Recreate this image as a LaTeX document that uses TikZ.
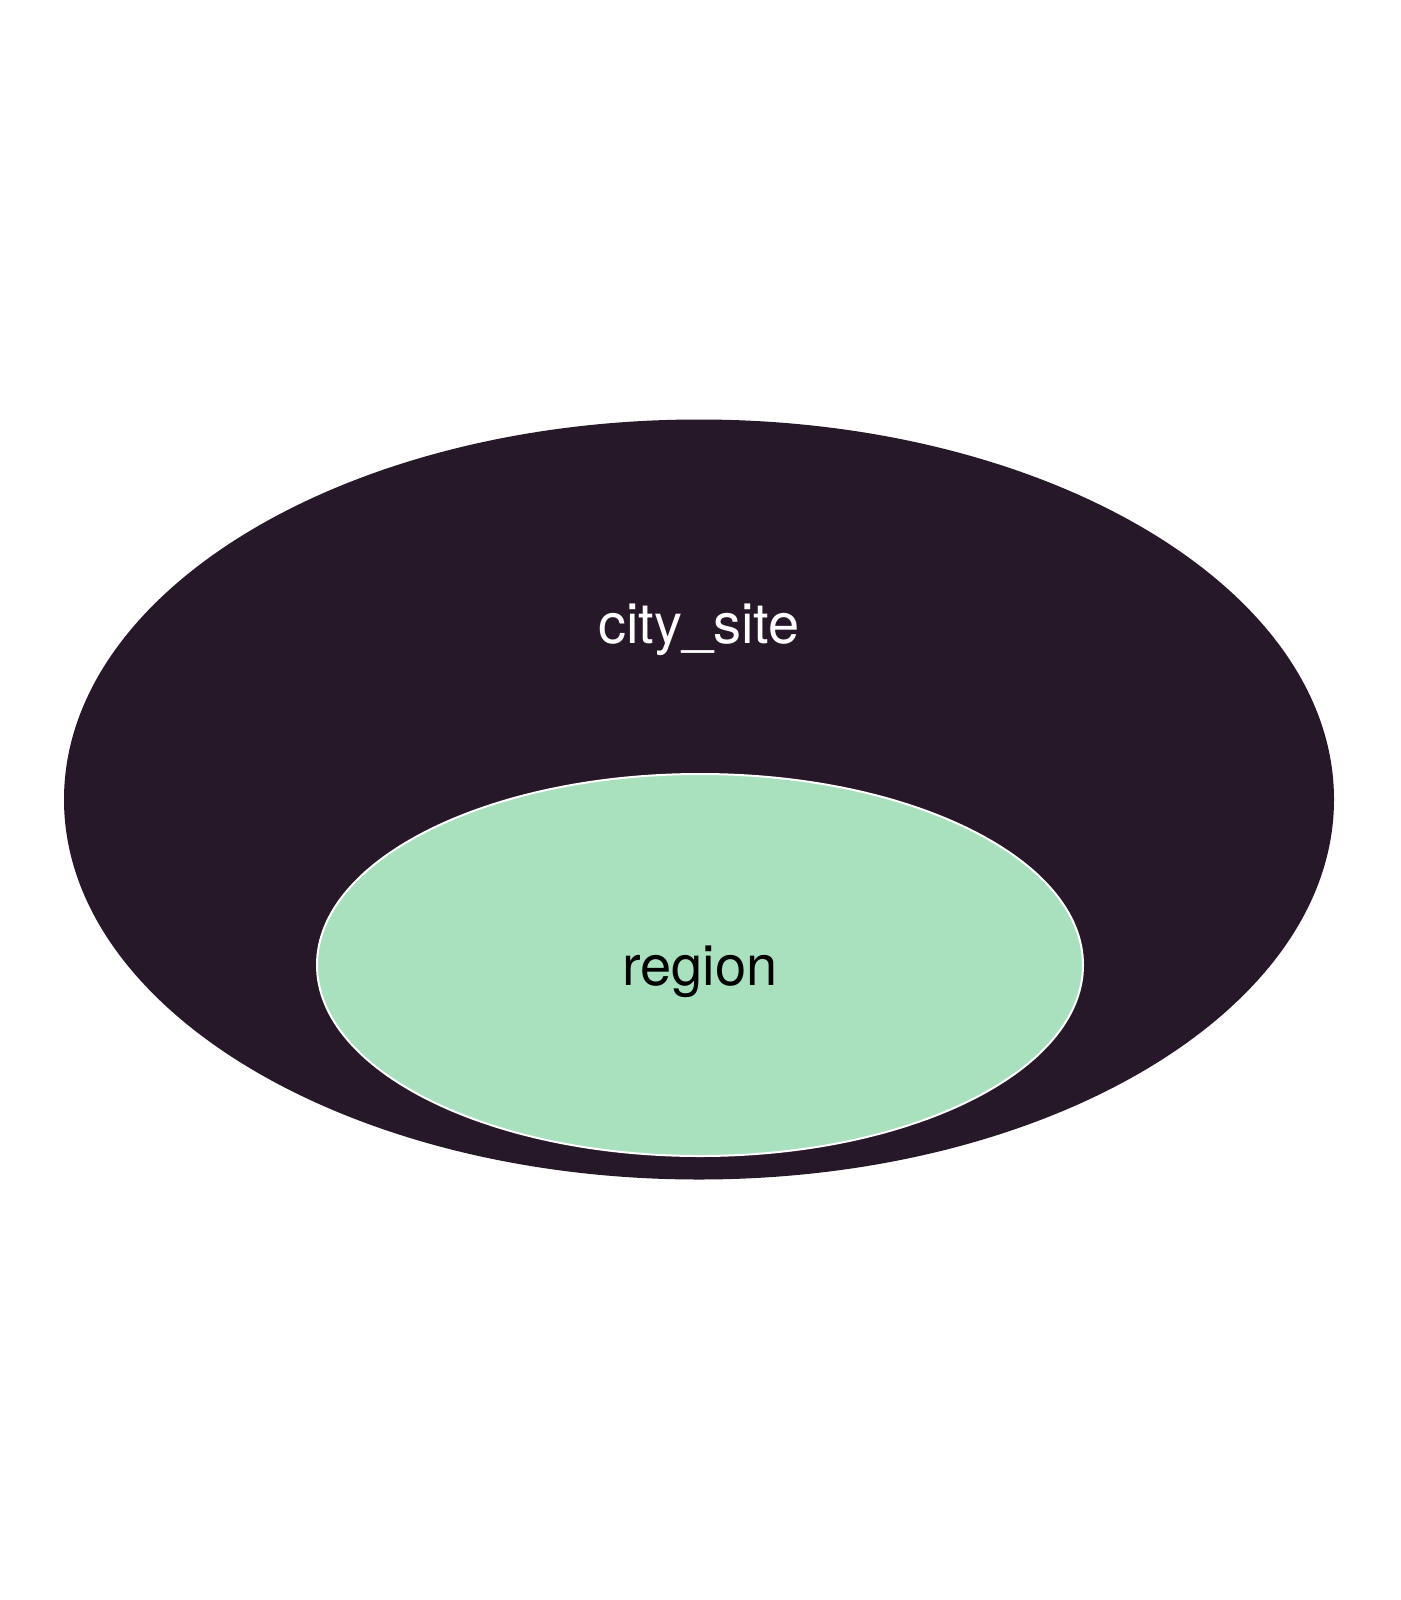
\documentclass[tikz,border=0pt]{standalone}
\usepackage{fontspec}
\setmainfont{TeX Gyre Heros}
\definecolor{outerc}{HTML}{261828}
\definecolor{innerc}{HTML}{A9E1BF}
\tikzset{
  setouter/.style={fill=outerc, draw=none},
  setinner/.style={fill=innerc, draw=white, line width=2pt},
  lab/.style={font=\fontsize{56}{62}\selectfont, anchor=base, inner sep=0pt}
}
\begin{document}
\begin{tikzpicture}[x=1pt,y=-1pt]
\useasboundingbox (0,0) rectangle (1400,1600);
\fill[white] (0,0) rectangle (1400,1600);
\path[setouter] (699,799.5) ellipse [x radius=635, y radius=380];
\path[setinner] (700,965) ellipse [x radius=383, y radius=191];
\node[lab, text=white] (citysite) at (699,643) {city\_site};
\node[lab, text=black] (region) at (700,985) {region};
\end{tikzpicture}
\end{document}
